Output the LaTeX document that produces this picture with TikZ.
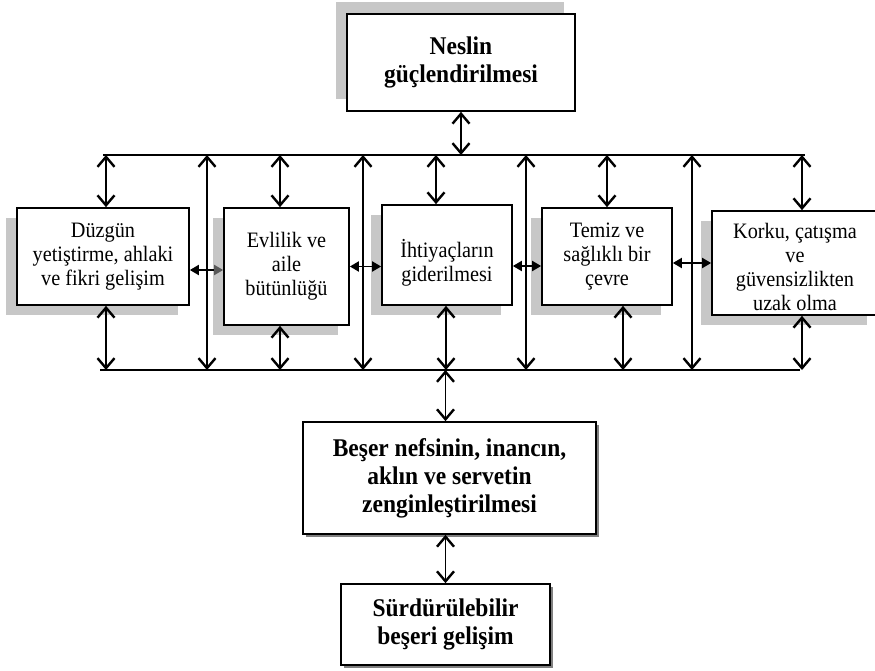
\documentclass[tikz,border=0pt]{standalone}
\usepackage{fontspec}
\setmainfont{Liberation Serif}[FakeStretch=0.92]
\usetikzlibrary{arrows.meta,shadows}

\begin{document}
\begin{tikzpicture}[
  x=1pt,
  y=-1pt,
  box/.style={
    draw,
    line width=1.7pt,
    fill=white,
    align=center,
    inner sep=0pt,
    font=\fontsize{22}{24}\selectfont
  },
  head/.style={
    box,
    font=\fontsize{25.5}{28}\selectfont\bfseries
  },
  shadeT/.style={drop shadow={shadow xshift=-11pt, shadow yshift=12pt, fill=black!22, opacity=1}},
  shadeL/.style={drop shadow={shadow xshift=-11pt, shadow yshift=-10pt, fill=black!22, opacity=1}},
  shadeR/.style={drop shadow={shadow xshift=3pt, shadow yshift=-3pt, fill=black!50, opacity=1}},
  bus/.style={line width=2.4pt},
  vv/.style={
    line width=1.8pt,
    {Straight Barb[length=10pt, width=17pt, line width=2.4pt]}-{Straight Barb[length=10pt, width=17pt, line width=2.4pt]}
  },
  hh/.style={
    line width=1.8pt,
    {Triangle[length=9pt, width=10pt]}-{Triangle[length=9pt, width=10pt]}
  },
  hhgray/.style={
    line width=1.8pt,
    {Triangle[length=9pt, width=10pt]}-{Triangle[length=9pt, width=10pt, color=black!65]}
  }
  ]
  \path [use as bounding box, clip] (0,0) rectangle (875,671);

  \node [head, shadeT, minimum width=228pt, minimum height=97pt] (Neslin) at (461,62.5) {Neslin\\güçlendirilmesi};
  \node [box, shadeL, minimum width=172pt, minimum height=97pt] (Duzgun) at (103,256.5) {Düzgün\\yetiştirme, ahlaki\\ve fikri gelişim};
  \node [box, shadeL, minimum width=125pt, minimum height=117pt] (Evlilik) at (286.5,266.5) {Evlilik ve\\aile\\bütünlüğü};
  \node [box, shadeL, minimum width=130pt, minimum height=100pt] (Ihtiyac) at (447,255) {\rule{0pt}{34pt}İhtiyaçların\\giderilmesi};
  \node [box, shadeL, minimum width=130pt, minimum height=97pt] (Temiz) at (607,256.5) {Temiz ve\\sağlıklı bir\\çevre};
  \node [box, shadeL, minimum width=166pt, minimum height=104pt] (Korku) at (795,263) {\rule{0pt}{24pt}Korku, çatışma\\ve\\güvensizlikten\\uzak olma};
  \node [head, shadeR, minimum width=293pt, minimum height=112pt] (Beser) at (449.5,478) {Beşer nefsinin, inancın,\\aklın ve servetin\\zenginleştirilmesi};
  \node [head, shadeR, minimum width=209pt, minimum height=81pt] (Surdur) at (445.5,624.5) {Sürdürülebilir\\beşeri gelişim};

  % upper and lower bus
  \coordinate (TopL) at (103,155);
  \coordinate (TopR) at (805,155);
  \coordinate (BotL) at (100,370);
  \coordinate (BotR) at (800,370);
  \draw [bus] (TopL) -- (TopR);
  \draw [bus] (BotL) -- (BotR);

  % bus to bus
  \coordinate (Link1) at (207,155);
  \coordinate (Link2) at (363,155);
  \coordinate (Link3) at (526,155);
  \coordinate (Link4) at (692,155);
  \draw [vv] (Link1) -- (Link1 |- BotL);
  \draw [vv] (Link2) -- (Link2 |- BotL);
  \draw [vv] (Link3) -- (Link3 |- BotL);
  \draw [vv] (Link4) -- (Link4 |- BotL);

  % boxes to upper bus
  \draw [vv] (Neslin.south) -- (Neslin.south |- TopL);
  \draw [vv] ([xshift=3pt]Duzgun.north) -- ([xshift=3pt]Duzgun.north |- TopL);
  \draw [vv] ([xshift=-6.5pt]Evlilik.north) -- ([xshift=-6.5pt]Evlilik.north |- TopL);
  \draw [vv] ([xshift=-11pt]Ihtiyac.north) -- ([xshift=-11pt]Ihtiyac.north |- TopL);
  \draw [vv] (Temiz.north) -- (Temiz.north |- TopL);
  \draw [vv] ([xshift=7pt]Korku.north) -- ([xshift=7pt]Korku.north |- TopL);

  % boxes to lower bus
  \draw [vv] ([xshift=3pt]Duzgun.south) -- ([xshift=3pt]Duzgun.south |- BotL);
  \draw [vv] ([xshift=-6.5pt]Evlilik.south) -- ([xshift=-6.5pt]Evlilik.south |- BotL);
  \draw [vv] ([xshift=-1pt]Ihtiyac.south) -- ([xshift=-1pt]Ihtiyac.south |- BotL);
  \draw [vv] ([xshift=16pt]Temiz.south) -- ([xshift=16pt]Temiz.south |- BotL);
  \draw [vv] ([xshift=7pt]Korku.south) -- ([xshift=7pt]Korku.south |- BotL);

  % side by side
  \draw [hhgray] ([yshift=-13.5pt]Duzgun.east) -- ([yshift=-13.5pt]Duzgun.east -| Evlilik.west);
  \draw [hh] (Evlilik.east) -- (Evlilik.east -| Ihtiyac.west);
  \draw [hh] ([yshift=-11pt]Ihtiyac.east) -- ([yshift=-11pt]Ihtiyac.east -| Temiz.west);
  \draw [hh] (Korku.west -| Temiz.east) -- (Korku.west);

  % down the chain
  \draw [vv] (Surdur.north |- BotL) -- (Surdur.north |- Beser.north);
  \draw [vv] (Surdur.north |- Beser.south) -- (Surdur.north);
\end{tikzpicture}
\end{document}
